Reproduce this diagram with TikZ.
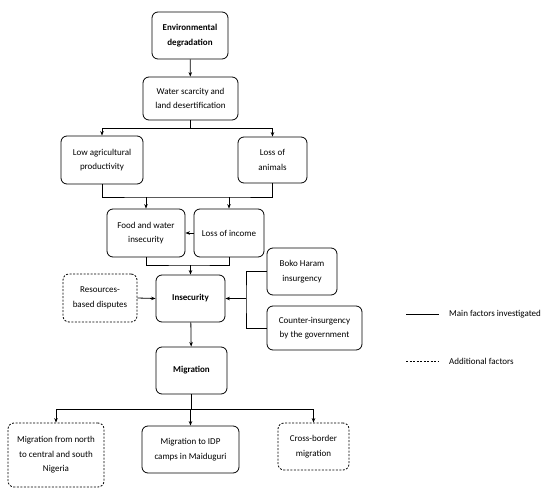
\documentclass[tikz,border=0pt]{standalone}
\usepackage{fontspec}
\setmainfont{Carlito}
\usetikzlibrary{arrows.meta}
\begin{document}
\begin{tikzpicture}[x=1pt,y=-1pt,
  box/.style={draw, rounded corners=6pt, line width=0.8pt, align=center, inner sep=1pt,
    font=\fontsize{9}{14.5}\selectfont},
  dbox/.style={box, dash pattern=on 2pt off 1.5pt},
  conn/.style={line width=0.8pt},
  arr/.style={conn, -{Stealth[length=4.5pt,width=3.5pt]}},
  lbl/.style={anchor=west, inner sep=0pt, font=\fontsize{9}{14.5}\selectfont}]
\useasboundingbox (0,0) rectangle (550,498);
\node[box, minimum width=76pt, minimum height=47pt] (env) at (190,35.5) {\textbf{Environmental}\\\textbf{degradation}};
\node[box, minimum width=95pt, minimum height=43pt] (water) at (190.5,98.5) {Water scarcity and\\land desertification};
\node[box, minimum width=82pt, minimum height=48pt] (low) at (102,160) {Low agricultural\\productivity};
\node[box, minimum width=69pt, minimum height=46pt] (animals) at (272.5,160) {Loss of\\animals};
\node[box, minimum width=78pt, minimum height=48pt] (food) at (146,233) {Food and water\\insecurity};
\node[box, minimum width=70pt, minimum height=48pt] (income) at (229,233) {Loss of income};
\node[box, minimum width=69pt, minimum height=47pt] (insec) at (190.5,298.5) {\textbf{Insecurity}};
\node[dbox, minimum width=74pt, minimum height=48pt] (res) at (100,298) {Resources-\\based disputes};
\node[box, minimum width=70pt, minimum height=47pt] (boko) at (302,271.5) {Boko Haram\\insurgency};
\node[box, minimum width=95pt, minimum height=44pt] (counter) at (314.5,328) {Counter-insurgency\\by the government};
\node[box, minimum width=71pt, minimum height=47pt] (migr) at (191.5,370.5) {\textbf{Migration}};
\node[dbox, minimum width=96pt, minimum height=64pt] (north) at (56,455) {Migration from north\\to central and south\\Nigeria};
\node[box, minimum width=97pt, minimum height=47pt] (idp) at (190.5,449.5) {Migration to IDP\\camps in Maiduguri};
\node[dbox, minimum width=71pt, minimum height=47pt] (cross) at (313.5,446.5) {Cross-border\\migration};

% connectors
\draw[arr] (env) -- (water);
\coordinate (w1) at (190.5,128);
\draw[conn] (water.south) -- (w1);
\draw[arr] (w1) -| (low.north);
\draw[arr] (w1) -| (animals.north);

\coordinate (j1) at (146,197);
\coordinate (j2) at (229,197);
\draw[conn] (low.south) |- (j1) -- (j2) -| (animals.south);
\draw[arr] (j1) -- (food.north);
\draw[arr] (j2) -- (income.north);
\draw[arr] (income.west) -- (food.east);

\coordinate (k1) at (190.5,265);
\draw[conn] (food.south) |- (k1) -| (income.south);
\draw[arr] (k1) -- (insec.north);

\draw[arr] (res.east) -- (insec.west);
\coordinate (b1) at (246,298.5);
\draw[conn] (boko.west) -| (b1) |- (counter.west);
\draw[arr] (b1) -- (insec.east);

\draw[arr] (insec) -- (migr);
\coordinate (m1) at (191.5,409);
\draw[conn] (migr.south) -- (m1);
\draw[arr] (m1) -| (north.north);
\draw[arr] (m1) -| (cross.north);
\draw[arr] (m1) -- (m1 -| idp.north) -- (idp.north);

% legend
\coordinate (l1) at (406,314);
\coordinate (l2) at (439,314);
\coordinate (l3) at (406,361);
\coordinate (l4) at (439,361);
\draw[conn] (l1) -- (l2);
\draw[conn, dash pattern=on 2pt off 1.5pt] (l3) -- (l4);
\node[lbl] (lt1) at (449,314) {Main factors investigated};
\node[lbl] (lt2) at (449,361) {Additional factors};
\end{tikzpicture}
\end{document}
